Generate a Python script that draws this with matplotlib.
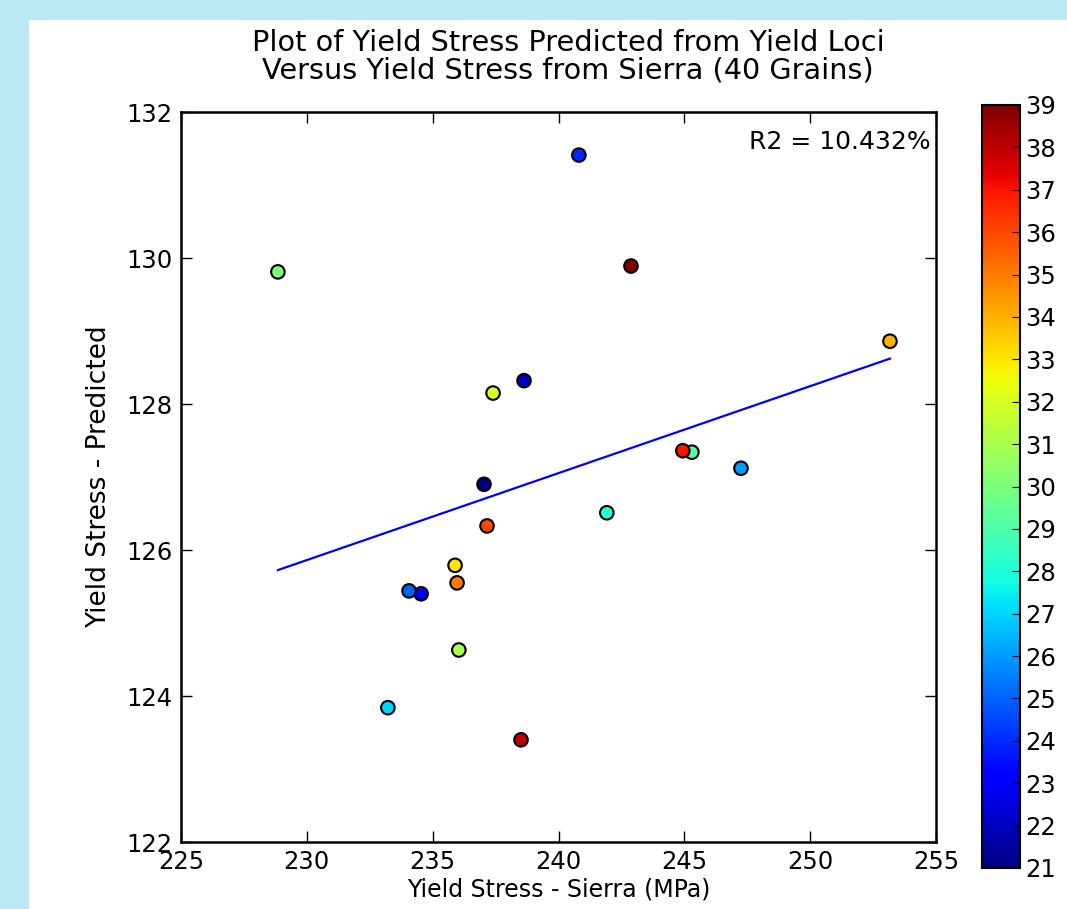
import numpy as np
import matplotlib
matplotlib.use("Agg")
import matplotlib.pyplot as plt
from matplotlib.patches import Rectangle

# grain id -> (sierra yield stress, predicted yield stress)
grain_ids = [21, 22, 23, 24, 25, 26, 27, 28, 29, 30,
             31, 32, 33, 34, 35, 36, 37, 38, 39]
sierra = [237.04, 238.63, 234.54, 240.81, 234.06, 247.25, 233.22, 241.92, 245.30, 228.85,
          236.04, 237.40, 235.89, 253.17, 235.97, 237.16, 244.94, 238.51, 242.88]
predicted = [126.90, 128.32, 125.40, 131.41, 125.44, 127.12, 123.84, 126.51, 127.34, 129.81,
             124.63, 128.15, 125.79, 128.86, 125.55, 126.33, 127.36, 123.40, 129.89]
r2_text = "R2 = 10.432%"

x = np.array(sierra)
y = np.array(predicted)

fig = plt.figure(figsize=(10.67, 9.09), dpi=100)
fig.patch.set_facecolor("white")

# light blue frame on the top and left
bg = "#bbe9f3"
fig.patches.append(Rectangle((0, 1 - 20 / 909), 1, 20 / 909, transform=fig.transFigure,
                             facecolor=bg, edgecolor="none", zorder=-10))
fig.patches.append(Rectangle((0, 0), 29 / 1067, 1, transform=fig.transFigure,
                             facecolor=bg, edgecolor="none", zorder=-10))

ax = fig.add_axes([181 / 1067, 1 - 842 / 909, 755 / 1067, 730 / 909])
cax = fig.add_axes([982 / 1067, 1 - 868 / 909, 38 / 1067, 763 / 909])

sc = ax.scatter(x, y, c=grain_ids, cmap="jet", vmin=21, vmax=39,
                s=95, edgecolors="black", linewidths=1.5, zorder=3)

# linear fit
slope, icpt = np.polyfit(x, y, 1)
xf = np.array([x.min(), x.max()])
ax.plot(xf, slope * xf + icpt, color="blue", lw=1.6, zorder=2)

ax.set_xlim(225, 255)
ax.set_ylim(122, 132)
ax.set_xticks(np.arange(225, 256, 5))
ax.set_yticks(np.arange(122, 133, 2))
ax.tick_params(direction="in", top=True, right=True, length=8, width=1, labelsize=17.5, pad=6)
for sp in ax.spines.values():
    sp.set_linewidth(1.8)

ax.set_xlabel("Yield Stress - Sierra (MPa)", fontsize=17, labelpad=2)
ax.set_ylabel("Yield Stress - Predicted", fontsize=19, labelpad=10)
ttl = ax.set_title("Plot of Yield Stress Predicted from Yield Loci\nVersus Yield Stress from Sierra (40 Grains)",
                   fontsize=20.7, linespacing=1.0, pad=24)
ttl.set_x(0.513)
ax.text(0.993, 0.975, r2_text, transform=ax.transAxes, ha="right", va="top", fontsize=18)

cb = fig.colorbar(sc, cax=cax, ticks=np.arange(21, 40))
cb.ax.tick_params(direction="in", length=6, labelsize=17.5)
cb.outline.set_linewidth(1.5)

fig.savefig("out.png", dpi=100)
